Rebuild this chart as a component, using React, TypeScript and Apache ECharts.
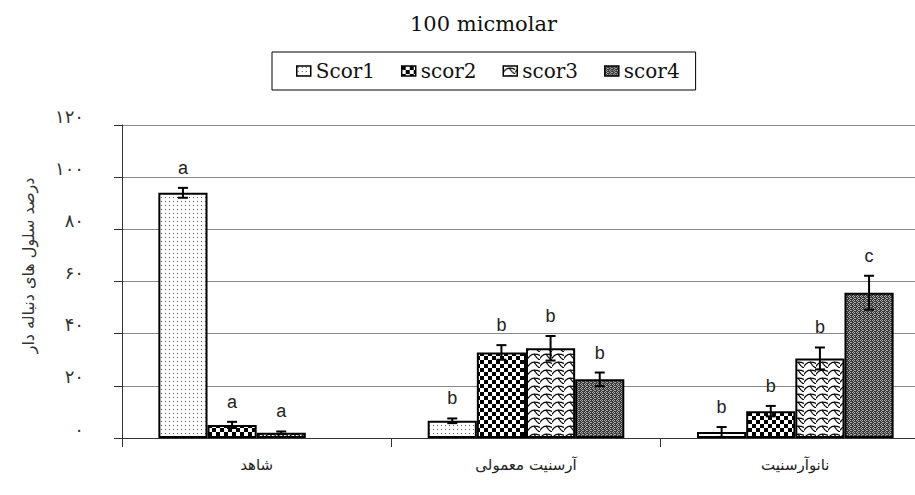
import React, { useEffect, useRef } from 'react';
import * as echarts from 'echarts';

const categories = ['شاهد', 'آرسنیت معمولی', 'نانوآرسنیت'];
const seriesNames = ['Scor1', 'scor2', 'scor3', 'scor4'];
const scor1 = [94, 6.6, 2.3];
const scor2 = [5.0, 32.8, 10.3];
const scor3 = [2.0, 34.4, 30.5];
const scor4 = [null, 22.5, 55.7];
const err1 = [1.9, 0.9, 1.9];
const err2 = [1.2, 2.8, 2.0];
const err3 = [0.5, 4.7, 4.2];
const err4 = [null, 2.6, 6.5];
const letters1 = ['a', 'b', 'b'];
const letters2 = ['a', 'b', 'b'];
const letters3 = ['a', 'b', 'b'];
const letters4 = ['', 'b', 'c'];
const yTickLabels = ['۰', '۲۰', '۴۰', '۶۰', '۸۰', '۱۰۰', '۱۲۰'];
const title = '100 micmolar';
const yName = 'درصد سلول های دنباله دار';

const values = [scor1, scor2, scor3, scor4];
const errors = [err1, err2, err3, err4];
const letters = [letters1, letters2, letters3, letters4];

const CAT_GAP = 0.27;

function makeTile(w: number, h: number, draw: (ctx: CanvasRenderingContext2D) => void) {
  const c = document.createElement('canvas');
  c.width = w;
  c.height = h;
  const ctx = c.getContext('2d') as CanvasRenderingContext2D;
  draw(ctx);
  return { image: c, repeat: 'repeat', imageWidth: w, imageHeight: h };
}

function makePatterns() {
  const p1 = makeTile(4, 4, (ctx) => {
    ctx.fillStyle = '#fff';
    ctx.fillRect(0, 0, 4, 4);
    ctx.fillStyle = '#555';
    ctx.fillRect(1, 1, 1, 1);
  });
  const p2 = makeTile(8, 8, (ctx) => {
    ctx.fillStyle = '#fff';
    ctx.fillRect(0, 0, 8, 8);
    ctx.fillStyle = '#000';
    ctx.fillRect(0, 0, 4, 4);
    ctx.fillRect(4, 4, 4, 4);
  });
  const p3 = makeTile(12, 8, (ctx) => {
    ctx.fillStyle = '#fff';
    ctx.fillRect(0, 0, 12, 8);
    ctx.strokeStyle = '#000';
    ctx.lineWidth = 1.2;
    ctx.beginPath();
    ctx.moveTo(0, 6.5);
    ctx.bezierCurveTo(3, 1, 7, 1, 12, 3.5);
    ctx.stroke();
    ctx.beginPath();
    ctx.moveTo(6, 2);
    ctx.bezierCurveTo(8, 5, 9, 7, 12, 8);
    ctx.stroke();
  });
  const p4 = makeTile(4, 4, (ctx) => {
    ctx.fillStyle = '#3a3a3a';
    ctx.fillRect(0, 0, 4, 4);
    ctx.fillStyle = '#a8a8a8';
    ctx.fillRect(0, 0, 1, 1);
    ctx.fillRect(2, 0, 1, 1);
    ctx.fillRect(1, 1, 1, 1);
    ctx.fillRect(3, 2, 1, 1);
    ctx.fillRect(1, 3, 1, 1);
    ctx.fillRect(2, 2, 1, 1);
  });
  return [p1, p2, p3, p4];
}

export default function App() {
  const ref = useRef<HTMLDivElement>(null);
  useEffect(() => {
    if (!ref.current) return;
    const chart = echarts.init(ref.current, null, { renderer: 'svg' });
    const patterns = makePatterns();
    const barSeries = seriesNames.map((name, i) => ({
      name,
      type: 'bar',
      data: values[i],
      barGap: '0%',
      barCategoryGap: CAT_GAP * 100 + '%',
      itemStyle: { color: patterns[i], borderColor: '#000', borderWidth: 2 },
      z: 2,
    }));
    const errSeries = seriesNames.map((name, i) => ({
      name: name + ' err',
      type: 'custom',
      z: 5,
      data: categories.map((_, j) => [j, values[i][j], errors[i][j]]),
      renderItem: (params: any, api: any) => {
        const cat = api.value(0);
        const v = api.value(1);
        const e = api.value(2);
        if (v == null || isNaN(v)) return null;
        const catW = api.size([1, 0])[0];
        const bw = (catW * (1 - CAT_GAP)) / 4;
        const base = api.coord([cat, v]);
        const x = base[0] + (i - 1.5) * bw;
        const top = api.coord([cat, v + e])[1];
        const bot = api.coord([cat, v - e])[1];
        const cap = 5;
        const ls = { stroke: '#000', lineWidth: 2 };
        const letter = letters[i][params.dataIndex];
        return {
          type: 'group',
          children: [
            { type: 'line', shape: { x1: x, y1: top, x2: x, y2: bot }, style: ls },
            { type: 'line', shape: { x1: x - cap, y1: top, x2: x + cap, y2: top }, style: ls },
            { type: 'line', shape: { x1: x - cap, y1: bot, x2: x + cap, y2: bot }, style: ls },
            {
              type: 'text',
              x,
              y: top - 20,
              style: {
                text: letter,
                align: 'center',
                verticalAlign: 'middle',
                textAlign: 'center',
                textVerticalAlign: 'middle',
                fontSize: 18,
                fontFamily: 'Liberation Sans',
                fill: '#222',
              },
            },
          ],
        };
      },
    }));
    chart.setOption({
      animation: false,
      backgroundColor: '#fff',
      title: {
        text: title,
        left: 405,
        top: 8,
        textStyle: { fontFamily: 'DejaVu Serif', fontSize: 21, fontWeight: 'normal', color: '#111' },
      },
      legend: {
        data: seriesNames,
        left: 272,
        top: 52,
        padding: [9, 16, 9, 24],
        borderColor: '#000',
        borderWidth: 1,
        itemWidth: 14,
        itemHeight: 10,
        itemGap: 26,
        icon: 'rect',
        itemStyle: { borderWidth: 1.5, borderColor: '#000' },
        textStyle: { fontFamily: 'DejaVu Serif', fontSize: 20, color: '#111' },
      },
      grid: { left: 122, top: 125, width: 808, height: 313, containLabel: false },
      xAxis: {
        type: 'category',
        data: categories,
        axisLine: { lineStyle: { color: '#333', width: 1 } },
        axisTick: { show: true, length: 9, lineStyle: { color: '#333' } },
        axisLabel: { margin: 19, fontFamily: 'DejaVu Sans', fontSize: 15, color: '#222' },
      },
      yAxis: {
        type: 'value',
        min: 0,
        max: 120,
        interval: 20,
        name: yName,
        nameLocation: 'middle',
        nameGap: 86,
        nameTextStyle: { fontFamily: 'DejaVu Sans', fontSize: 16, color: '#333', padding: [0, 0, 0, 32] },
        axisLine: { show: true, lineStyle: { color: '#333', width: 1 } },
        axisTick: { show: true, length: 8, lineStyle: { color: '#333' } },
        axisLabel: {
          margin: 38,
          fontFamily: 'DejaVu Sans',
          fontSize: 18,
          lineHeight: 18,
          color: '#333',
          verticalAlign: 'bottom',
          formatter: (v: number) => yTickLabels[Math.round(v / 20)],
        },
        splitLine: { lineStyle: { color: '#888', width: 1 } },
      },
      series: [...barSeries, ...errSeries],
    });
    return () => chart.dispose();
  }, []);
  return (
    <div style={{ position: 'absolute', left: 0, top: 0, width: 915, height: 495, overflow: 'hidden' }}>
      <div ref={ref} style={{ width: 940, height: 495 }} />
    </div>
  );
}
